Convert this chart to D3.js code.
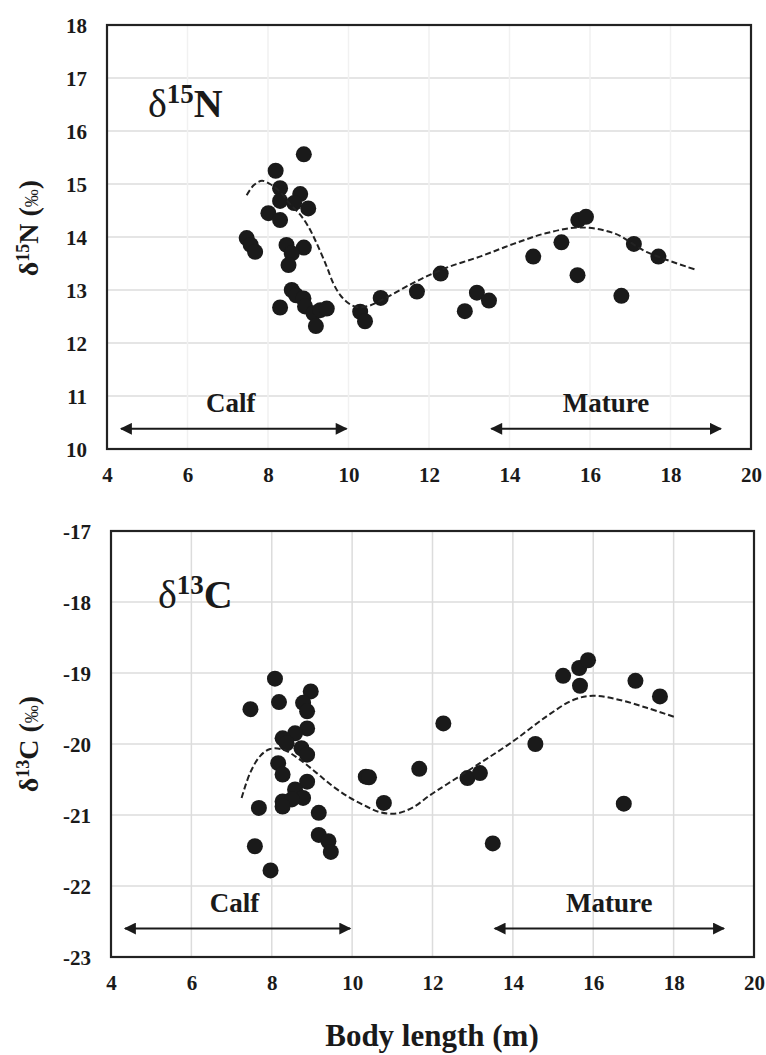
<!DOCTYPE html>
<html>
<head>
<meta charset="utf-8">
<script src="https://cdn.jsdelivr.net/npm/d3@7"></script>
<style>
body { margin: 0; background: #fff; }
svg text { font-family: "Liberation Serif", "Times New Roman", serif; fill: #1a1a1a; }
</style>
</head>
<body>
<div id="container"></div>
<script>
// shared x axis
const xTicks = [4, 6, 8, 10, 12, 14, 16, 18, 20];

// d15N panel
const nTicks = [10, 11, 12, 13, 14, 15, 16, 17, 18];
const nLength = [8.89, 8.19, 8.30, 8.80, 8.30, 8.65, 9.00, 8.01, 8.30, 7.47, 7.57, 7.68,
    8.46, 8.89, 8.59, 8.51, 8.59, 8.70, 8.88, 8.30, 8.92, 9.13, 9.30, 9.46, 9.19,
    10.29, 10.41, 10.80, 11.70, 12.29, 13.19, 13.49, 12.89, 14.59, 15.29, 15.71,
    15.90, 15.69, 16.78, 17.09, 17.70];
const nValue = [15.56, 15.25, 14.92, 14.81, 14.68, 14.64, 14.54, 14.45, 14.32, 13.98, 13.85, 13.72,
    13.85, 13.80, 13.69, 13.47, 13.00, 12.90, 12.84, 12.67, 12.69, 12.56, 12.62, 12.65, 12.32,
    12.59, 12.41, 12.85, 12.97, 13.31, 12.95, 12.80, 12.60, 13.63, 13.90, 14.32,
    14.38, 13.28, 12.89, 13.87, 13.63];
const nTrendX = [7.47, 7.65, 7.85, 8.05, 8.3, 8.55, 8.8, 9.0, 9.21, 9.46, 9.62, 9.79, 10.0, 10.2,
    10.5, 10.8, 11.6, 12.4, 13.3, 14.1, 14.9, 15.75, 16.6, 17.4, 18.6];
const nTrendY = [14.79, 14.98, 15.06, 15.0, 14.85, 14.62, 14.42, 14.2, 13.88, 13.44, 13.13, 12.91, 12.75, 12.68,
    12.7, 12.8, 13.13, 13.41, 13.64, 13.87, 14.07, 14.18, 14.07, 13.72, 13.39];

// d13C panel
const cTicks = [-23, -22, -21, -20, -19, -18, -17];
const cLength = [8.08, 7.47, 8.18, 8.97, 8.78, 8.88, 8.88, 8.58, 8.27, 8.37, 8.74, 8.88,
    8.16, 8.27, 8.88, 8.58, 8.78, 8.27, 8.50, 8.27, 7.68, 9.17, 9.17, 9.41, 9.47,
    7.58, 7.97, 10.34, 10.42, 10.79, 11.67, 12.27, 12.87, 13.18, 13.50, 14.56,
    15.25, 15.65, 15.87, 15.67, 17.05, 17.66, 16.76];
const cValue = [-19.08, -19.51, -19.41, -19.26, -19.42, -19.54, -19.78, -19.85, -19.92, -19.99, -20.06, -20.15,
    -20.27, -20.43, -20.53, -20.64, -20.76, -20.81, -20.78, -20.88, -20.90, -20.97, -21.28, -21.37, -21.52,
    -21.44, -21.78, -20.46, -20.47, -20.83, -20.35, -19.71, -20.48, -20.41, -21.40, -20.00,
    -19.04, -18.93, -18.82, -19.18, -19.11, -19.33, -20.84];
const cTrendX = [7.25, 7.46, 7.71, 7.96, 8.29, 8.70, 9.12, 9.53, 9.95, 10.36, 10.69, 11.1, 11.52, 11.94,
    12.35, 13.18, 14.01, 14.84, 15.5, 15.99, 16.66, 17.33, 18.03];
const cTrendY = [-20.76, -20.41, -20.17, -20.07, -20.08, -20.22, -20.41, -20.6, -20.76, -20.88, -20.96, -20.98, -20.89, -20.72,
    -20.57, -20.27, -19.96, -19.61, -19.38, -19.32, -19.38, -19.49, -19.62];

// life stages
const stageNames = ["Calf", "Mature"];
const stageFrom = [4.35, 13.55];
const stageTo = [9.95, 19.25];

const svg = d3.select("#container").append("svg")
    .attr("width", 766)
    .attr("height", 1055);

function panel(o) {
    const x = d3.scaleLinear().domain([4, 20]).range([o.left, o.right]);
    const y = d3.scaleLinear().domain(o.yDomain).range([o.bottom, o.top]);
    const g = svg.append("g");

    // grid
    g.append("g").selectAll("line")
        .data(o.yTicks.slice(1, -1))
        .enter().append("line")
        .attr("x1", o.left).attr("x2", o.right)
        .attr("y1", d => y(d)).attr("y2", d => y(d))
        .attr("stroke", "#dcdcdc").attr("stroke-width", 1.5);
    g.append("g").selectAll("line")
        .data(xTicks.slice(1, -1))
        .enter().append("line")
        .attr("x1", d => x(d)).attr("x2", d => x(d))
        .attr("y1", o.top).attr("y2", o.bottom)
        .attr("stroke", o.vGrid).attr("stroke-width", 1.5);

    // axes labels
    const xAxis = d3.axisBottom(x).tickValues(xTicks).tickSize(0).tickPadding(0);
    const xg = g.append("g").attr("transform", `translate(0, ${o.bottom})`).call(xAxis);
    xg.select(".domain").remove();
    xg.selectAll("text")
        .attr("dy", null).attr("y", 33)
        .style("font-family", "Liberation Serif").style("font-size", "21px").style("font-weight", "bold")
        .attr("fill", "#1a1a1a");

    const yAxis = d3.axisLeft(y).tickValues(o.yTicks).tickFormat(d => String(d)).tickSize(0).tickPadding(0);
    const yg = g.append("g").attr("transform", `translate(${o.left - 20}, 0)`).call(yAxis);
    yg.select(".domain").remove();
    yg.selectAll("text")
        .attr("dy", "0.34em")
        .style("font-family", "Liberation Serif").style("font-size", "21px").style("font-weight", "bold")
        .attr("fill", "#1a1a1a");

    // frame
    g.append("rect")
        .attr("x", o.left).attr("y", o.top)
        .attr("width", o.right - o.left).attr("height", o.bottom - o.top)
        .attr("fill", "none").attr("stroke", "#222").attr("stroke-width", 2.2);

    // points
    g.append("g").selectAll("circle")
        .data(o.xs.map((d, i) => [d, o.ys[i]]))
        .enter().append("circle")
        .attr("cx", d => x(d[0])).attr("cy", d => y(d[1]))
        .attr("r", 8)
        .attr("fill", "#1a1a1a");

    // trend
    const line = d3.line().x(d => x(d[0])).y(d => y(d[1])).curve(d3.curveCatmullRom);
    g.append("path")
        .attr("d", line(o.tx.map((d, i) => [d, o.ty[i]])))
        .attr("fill", "none").attr("stroke", "#222")
        .attr("stroke-width", 2).attr("stroke-dasharray", "6,3");

    // stages
    const marker = "arrow" + o.id;
    const defs = svg.append("defs");
    defs.append("marker")
        .attr("id", marker)
        .attr("viewBox", "0 0 10 10").attr("refX", 9).attr("refY", 5)
        .attr("markerWidth", 6.5).attr("markerHeight", 6)
        .attr("markerUnits", "strokeWidth")
        .attr("orient", "auto-start-reverse")
        .append("path").attr("d", "M0,0L10,5L0,10Z").attr("fill", "#1a1a1a");
    stageNames.forEach((name, i) => {
        g.append("line")
            .attr("x1", x(stageFrom[i])).attr("x2", x(stageTo[i]))
            .attr("y1", y(o.arrowY)).attr("y2", y(o.arrowY))
            .attr("stroke", "#1a1a1a").attr("stroke-width", 2)
            .attr("marker-start", `url(#${marker})`)
            .attr("marker-end", `url(#${marker})`);
        g.append("text")
            .attr("x", (x(stageFrom[i]) + x(stageTo[i])) / 2 + (i === 0 ? -3 : 0))
            .attr("y", y(o.arrowY) - 17)
            .attr("text-anchor", "middle")
            .style("font-size", "27px").style("font-weight", "bold")
            .text(name);
    });

    // panel title
    const t = g.append("text")
        .attr("x", o.left + o.titleDx).attr("y", o.top + o.titleDy)
        .style("font-size", "40px").style("font-weight", "bold");
    t.append("tspan").style("font-weight", "normal").text("δ");
    t.append("tspan").attr("dy", -14).style("font-size", "27px").text(o.iso);
    t.append("tspan").attr("dy", 14).text(o.el);

    // y title
    const yt = g.append("text")
        .attr("transform", `translate(38, ${o.yTitleY}) rotate(-90)`)
        .attr("text-anchor", "middle")
        .style("font-size", "28px").style("font-weight", "bold");
    yt.append("tspan").text("δ");
    yt.append("tspan").attr("dy", -9).style("font-size", "18px").text(o.iso);
    yt.append("tspan").attr("dy", 9).text(o.el + " (");
    yt.append("tspan").style("font-size", "18px").style("font-weight", "normal").text("‰");
    yt.append("tspan").text(")");
}

panel({
    id: "n", left: 107, right: 751, top: 25, bottom: 449,
    yDomain: [10, 18], yTicks: nTicks, vGrid: "#f1f1f1",
    xs: nLength, ys: nValue, tx: nTrendX, ty: nTrendY,
    arrowY: 10.38, titleDx: 41, titleDy: 92, iso: "15", el: "N", yTitleY: 228
});

panel({
    id: "c", left: 111, right: 754, top: 531, bottom: 957,
    yDomain: [-23, -17], yTicks: cTicks, vGrid: "#dcdcdc",
    xs: cLength, ys: cValue, tx: cTrendX, ty: cTrendY,
    arrowY: -22.6, titleDx: 47, titleDy: 77, iso: "13", el: "C", yTitleY: 744
});

svg.append("text")
    .attr("x", 432).attr("y", 1046)
    .attr("text-anchor", "middle")
    .style("font-size", "31px").style("font-weight", "bold")
    .text("Body length (m)");
</script>
</body>
</html>
